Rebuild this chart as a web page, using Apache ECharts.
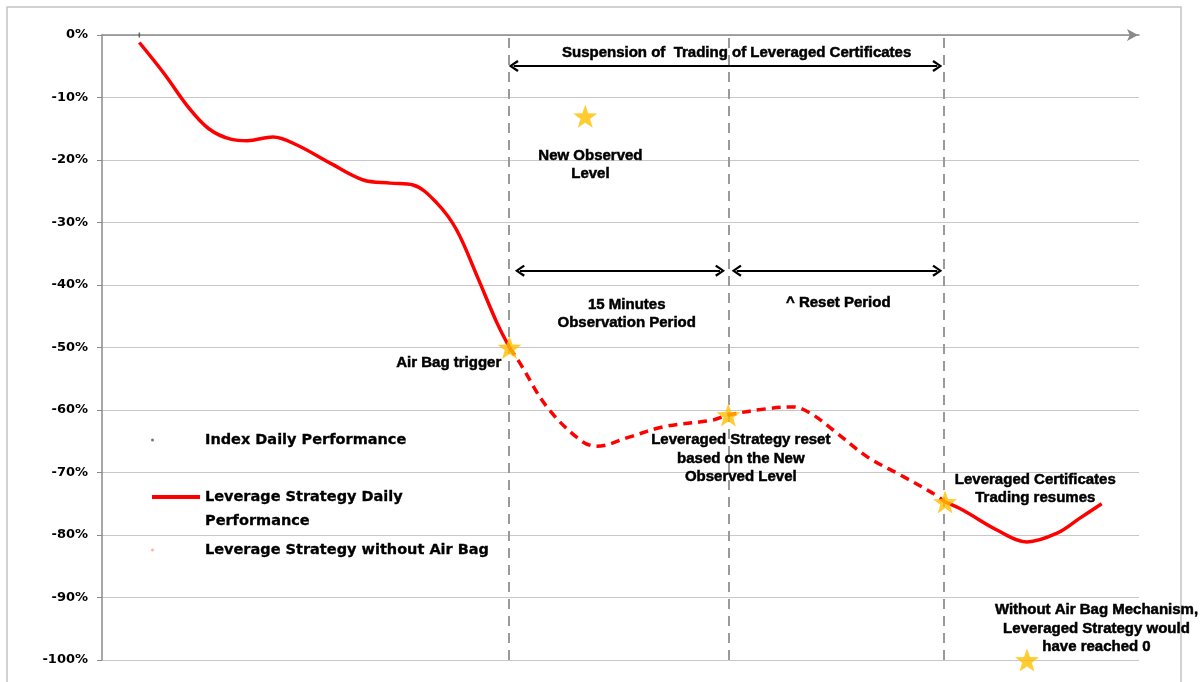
<!DOCTYPE html>
<html><head><meta charset="utf-8">
<script src="https://cdn.jsdelivr.net/npm/echarts@6/dist/echarts.min.js"></script>
<style>html,body{margin:0;padding:0;background:#fff}#c{width:1203px;height:682px}</style>
</head><body><div id="c"></div><script>
// ---- data (x: relative intraday time units, y: performance %) ----
const yTicks = [0,-10,-20,-30,-40,-50,-60,-70,-80,-90,-100];
const indexTime = [3.6];
const indexPerf = [0];
const beforeTime = [3.6,6.0,8.3,10.3,12.5,14.0,16.5,18.8,22.0,25.2,27.8,30.0,32.3,34.2,36.2,38.1,39.3];
const beforePerf = [-1.2,-6.2,-11.5,-15.0,-16.7,-16.9,-16.3,-17.6,-20.5,-23.2,-23.7,-24.0,-26.9,-31.2,-38.7,-46.1,-50.0];
const noBagTime = [39.3,40.3,42.9,46.1,47.7,50.9,54.1,58.9,60.4,64.1,66.6,68.3,70.5,73.8,77.0,80.1,81.3];
const noBagPerf = [-50.0,-52.5,-59.5,-64.8,-65.8,-64.3,-62.7,-61.6,-60.8,-59.8,-59.5,-60.5,-63.2,-67.5,-70.4,-73.3,-74.7];
const afterTime = [81.3,83.0,86.3,89.2,92.1,94.3,96.4];
const afterPerf = [-74.7,-76.0,-79.2,-81.1,-79.7,-77.3,-75.0];
const starTime = [46.6,39.3,60.4,81.3,89.2];
const starPerf = [-13.0,-50.0,-60.8,-74.7,-100.0];
const eventTime = [39.2,60.4,81.2];
const seriesNames = ['Index Daily Performance','Leverage Strategy Daily Performance','Leverage Strategy without Air Bag'];
const annoTexts = [
  'Suspension of  Trading of Leveraged Certificates',
  'New Observed\nLevel',
  '15 Minutes\nObservation Period',
  '^ Reset Period',
  'Air Bag trigger',
  'Leveraged Strategy reset\nbased on the New\nObserved Level',
  'Leveraged Certificates\nTrading resumes',
  'Without Air Bag Mechanism,\nLeveraged Strategy would\nhave reached 0'
];
// annotation anchors (data coordinates) and alignment
const annoAnchors = [[61.2,-2.9],[47.1,-20.8],[50.6,-44.6],[71.0,-42.9],[38.5,-52.5],[61.6,-67.8],[90.0,-72.6],[95.9,-95.0]];
const annoAlign = ['center','center','center','center','right','center','center','center'];
const arrowSpans = [[39.7,80.55,-4.96],[40.3,59.6,-37.7],[61.2,80.55,-37.7]];

const zip = (a,b) => a.map((v,i)=>[v,b[i]]);
const STAR = 'path://M12,0 L14.9,8.3 L23.6,8.6 L16.7,13.9 L19.2,22.3 L12,17.4 L4.8,22.3 L7.3,13.9 L0.4,8.6 L9.1,8.3 Z';
const CHEVRON = 'path://M5,0 L10,8.6 L8.4,10 L5,3.6 L1.6,10 L0,8.6 Z';
const legendFont = {fontFamily:'DejaVu Sans', fontWeight:'bold', fontSize:14.5, color:'#000', textBorderColor:'#000', textBorderWidth:0.3};
const annoFont = {fontFamily:'Liberation Sans', fontWeight:'bold', fontSize:15, lineHeight:18.5, color:'#000', opacity:1, textBorderColor:'#000', textBorderWidth:0.5};

const chart = echarts.init(document.getElementById('c'), null, {renderer:'canvas'});
chart.setOption({
  animation:false,
  backgroundColor:'#fff',
  graphic:[{type:'rect', shape:{x:7,y:7,width:1174,height:700}, style:{fill:'none', stroke:'#c4c4c4', lineWidth:1.5}, silent:true, z:-1}],
  grid:{left:102, right:64, top:35, bottom:22, containLabel:false},
  xAxis:{type:'value', min:0, max:100, position:'top',
    axisLine:{show:true, onZero:false, lineStyle:{color:'#8a8a8a', width:1.5}, symbol:['none','arrow'], symbolSize:[9,11], symbolOffset:[0,-1]},
    axisTick:{show:false}, axisLabel:{show:false}, splitLine:{show:false}},
  yAxis:{type:'value', min:-100, max:0, interval:10,
    axisLine:{show:true, lineStyle:{color:'#8a8a8a', width:1.5}},
    axisTick:{show:true, length:5, lineStyle:{color:'#8a8a8a'}},
    axisLabel:{margin:14, formatter:v=>v+'%', fontFamily:'DejaVu Sans', fontWeight:'bold', fontSize:13, color:'#000'},
    splitLine:{show:true, lineStyle:{color:'#c8c8c8', width:1.2}}},
  legend:[
    {data:[{name:seriesNames[0], icon:'circle', itemStyle:{color:'#555'}}], left:151, top:430, padding:0, itemWidth:3, itemHeight:3, selectedMode:false,
      textStyle:Object.assign({lineHeight:20, padding:[0,0,0,46]}, legendFont)},
    {data:[{name:seriesNames[1], icon:'rect', itemStyle:{color:'#ff0000'}}], left:152, top:461, padding:0, itemWidth:48, itemHeight:4, selectedMode:false,
      formatter:()=> ' \nLeverage Strategy Daily\nPerformance',
      textStyle:Object.assign({lineHeight:24}, legendFont)},
    {data:[{name:seriesNames[2], icon:'circle', itemStyle:{color:'#ffb0b0'}}], left:151, top:540, padding:0, itemWidth:3, itemHeight:3, selectedMode:false,
      textStyle:Object.assign({lineHeight:20, padding:[0,0,0,46]}, legendFont)}
  ],
  series:[
    {name:seriesNames[0], type:'scatter', data:zip(indexTime,indexPerf), symbol:'rect', symbolSize:[1.5,5], itemStyle:{color:'#444'}, silent:true, clip:false, z:4},
    {name:seriesNames[1], type:'line', data:zip(beforeTime,beforePerf), smooth:0.35, symbol:'none', lineStyle:{color:'#ff0000', width:3.5}, itemStyle:{color:'#ff0000'}, silent:true, z:5},
    {name:seriesNames[1], type:'line', data:zip(afterTime,afterPerf), smooth:0.35, symbol:'none', lineStyle:{color:'#ff0000', width:3.5}, itemStyle:{color:'#ff0000'}, silent:true, z:5},
    {name:seriesNames[2], type:'line', data:zip(noBagTime,noBagPerf), smooth:0.35, symbol:'none', lineStyle:{color:'#ff0000', width:3.5, type:[9,6]}, itemStyle:{color:'#ff0000'}, silent:true, z:5},
    {name:'events', type:'line', data:[], silent:true, z:3,
      markLine:{silent:true, symbol:['none','none'], label:{show:false},
        lineStyle:{color:'#9a9a9a', width:2, type:[10,7]},
        data:eventTime.map(t=>({xAxis:t}))}},
    {name:'arrows', type:'line', data:[], silent:true, z:6,
      markLine:{silent:true, symbol:[CHEVRON,CHEVRON], symbolSize:[12,10], label:{show:false},
        lineStyle:{color:'#000', width:2, type:'solid'},
        data:arrowSpans.map(s=>[{coord:[s[0],s[2]]},{coord:[s[1],s[2]]}])}},
    {name:'stars', type:'scatter', data:zip(starTime,starPerf), symbol:STAR, symbolSize:[24,23], itemStyle:{color:'#ffc000'}, silent:true, clip:false, z:8},
    {name:'annotations', type:'scatter', silent:true, clip:false, z:9, symbolSize:1, itemStyle:{color:'transparent'},
      data:annoTexts.map((t,i)=>({name:t, value:annoAnchors[i],
        label:{show:true, position:'inside', formatter:t, align:annoAlign[i], verticalAlign:'middle', ...annoFont}}))}
  ]
});
</script></body></html>
